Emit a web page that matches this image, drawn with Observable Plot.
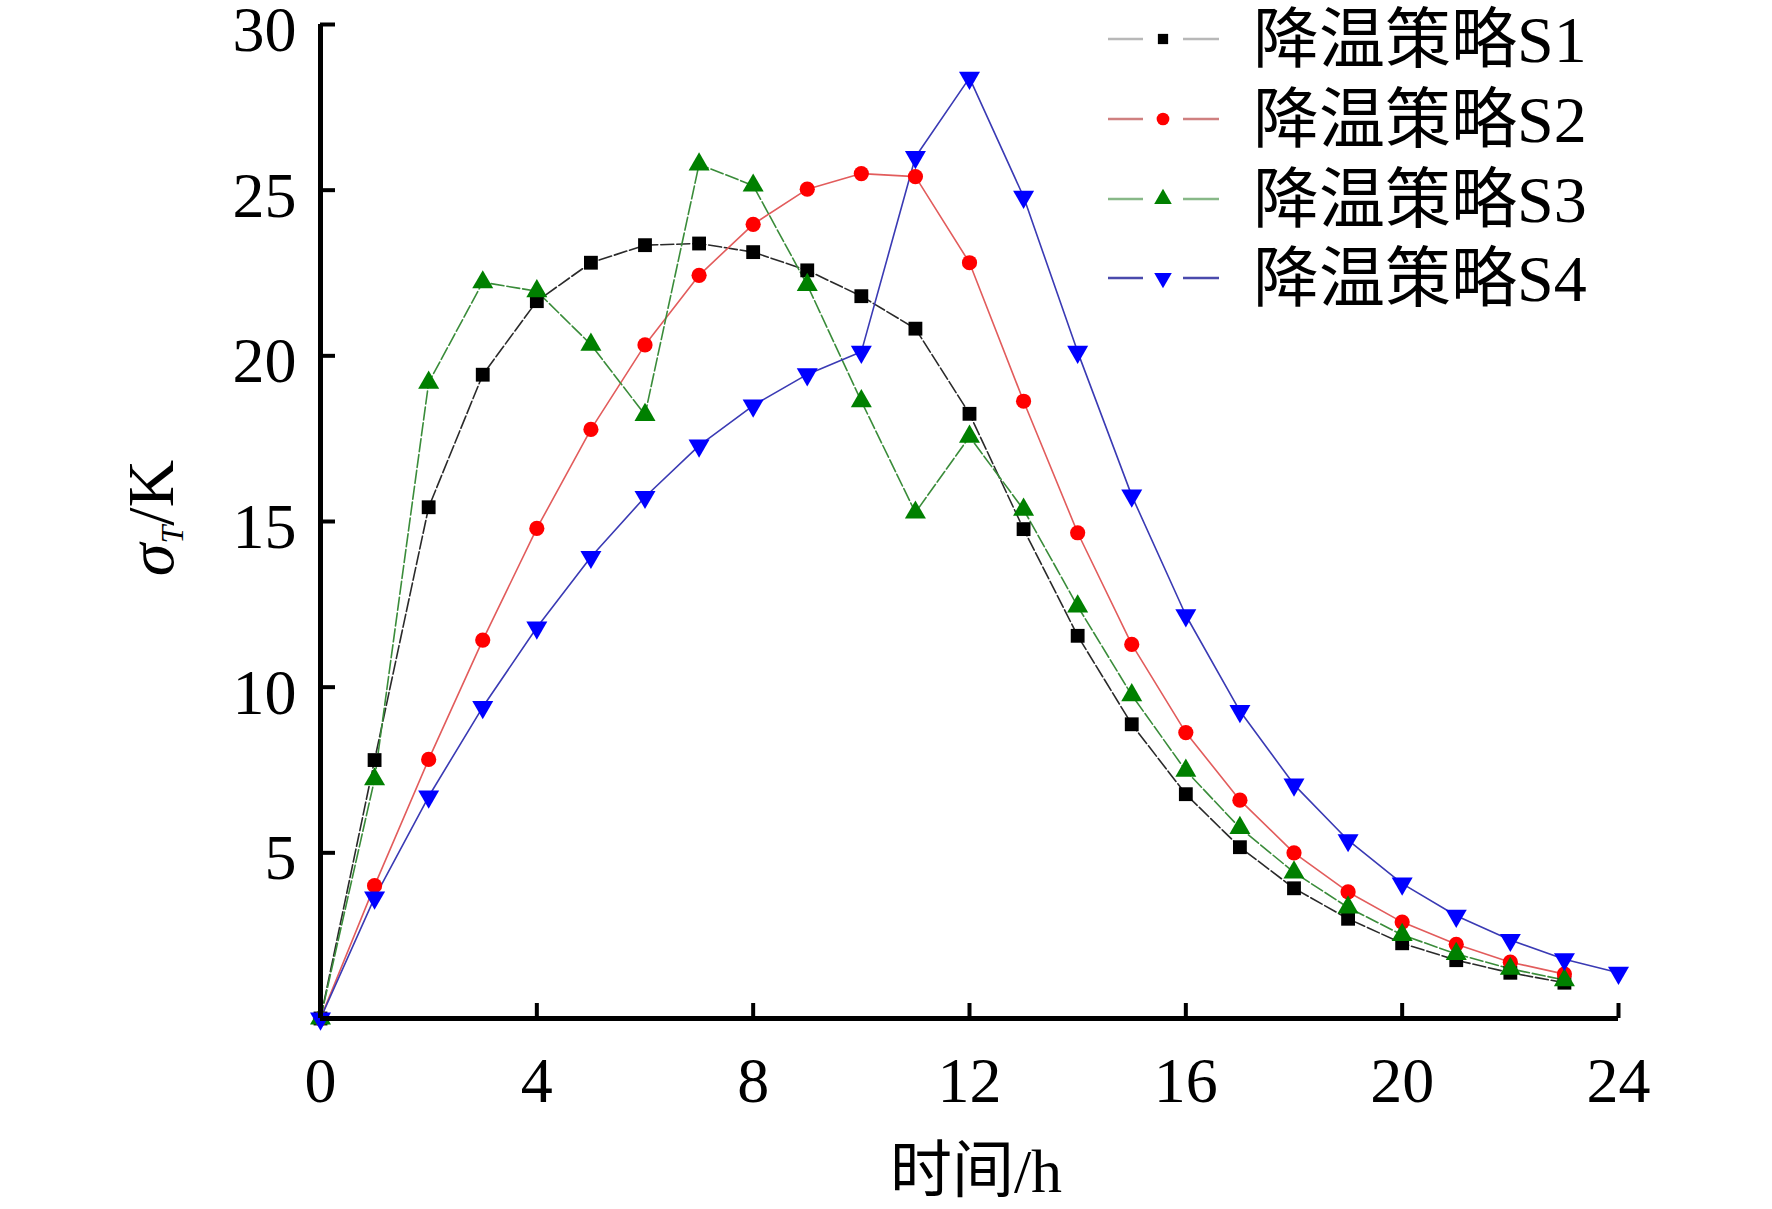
<!DOCTYPE html>
<html>
<head>
<meta charset="utf-8">
<script src="https://cdn.jsdelivr.net/npm/d3@7"></script>
<script src="https://cdn.jsdelivr.net/npm/@observablehq/plot@0.6"></script>
<style>
html, body { margin: 0; padding: 0; background: #fff; color: #000; }
#chart svg { display: block; background: #fff; }
</style>
</head>
<body>
<div id="chart"></div>
<script>
// ---- data ----
const hours = [0,1,2,3,4,5,6,7,8,9,10,11,12,13,14,15,16,17,18,19,20,21,22,23,24];
const xTicks = [0, 4, 8, 12, 16, 20, 24];
const yTicks = [5, 10, 15, 20, 25, 30];
const seriesNames = ["降温策略S1", "降温策略S2", "降温策略S3", "降温策略S4"];
const xLabel = "时间/h";

const s1 = [0, 7.80, 15.43, 19.43, 21.65, 22.81, 23.34, 23.39, 23.13, 22.58, 21.80, 20.82, 18.25, 14.77, 11.55, 8.88, 6.77, 5.17, 3.93, 3.01, 2.27, 1.76, 1.38, 1.08];
const s2 = [0, 4.01, 7.82, 11.42, 14.79, 17.78, 20.33, 22.43, 23.97, 25.03, 25.50, 25.41, 22.81, 18.63, 14.66, 11.29, 8.63, 6.59, 5.00, 3.82, 2.91, 2.24, 1.70, 1.34];
const s3 = [0, 7.22, 19.19, 22.22, 21.95, 20.34, 18.22, 25.78, 25.14, 22.14, 18.63, 15.27, 17.56, 15.36, 12.44, 9.76, 7.48, 5.75, 4.41, 3.35, 2.52, 1.95, 1.50, 1.16];
const s4 = [0, 3.65, 6.70, 9.40, 11.80, 13.93, 15.74, 17.29, 18.50, 19.44, 20.12, 26.00, 28.39, 24.80, 20.12, 15.78, 12.17, 9.28, 7.06, 5.38, 4.07, 3.10, 2.37, 1.79, 1.38];
const seriesValues = [s1, s2, s3, s4];

// ---- styles ----
const lineColors = ["#2a2a2a", "#e25c5c", "#3a8c3a", "#3a3ab4"];
const dotColors = ["#000000", "#ff0000", "#008000", "#0000ff"];
const legendLineColors = ["#b8b8b8", "#cf8080", "#88b888", "#4a4aac"];
const dashes = ["13,3", null, "13,3", null];

const triDown = {
  draw(context, size) {
    const sqrt3 = Math.sqrt(3);
    const y = -Math.sqrt(size / (sqrt3 * 3));
    context.moveTo(0, -y * 2);
    context.lineTo(-sqrt3 * y, y);
    context.lineTo(sqrt3 * y, y);
    context.closePath();
  }
};
const symbols = ["square", "circle", "triangle", triDown];
const radii = [7.8, 7.6, 7.8, 7.8];

const W = 1772, H = 1209;
const mL = 320, mR = 154, mT = 24, mB = 191;
const innerW = W - mL - mR, innerH = H - mT - mB;
const tickLen = 15;
const serif = "'Liberation Serif', 'Times New Roman', serif";
const cjk = "'Liberation Serif', 'Noto Sans CJK SC', serif";

const marks = [];
seriesValues.forEach((vals, i) => {
  const data = vals.map((v, j) => ({x: hours[j], y: v}));
  marks.push(Plot.line(data, {
    x: "x", y: "y", stroke: lineColors[i], strokeWidth: 1.6,
    strokeDasharray: dashes[i] ?? undefined
  }));
});
seriesValues.forEach((vals, i) => {
  const data = vals.map((v, j) => ({x: hours[j], y: v}));
  marks.push(Plot.dot(data, {
    x: "x", y: "y", symbol: symbols[i], r: radii[i],
    fill: dotColors[i], stroke: "none"
  }));
});

// axes: inward ticks, thick axis lines
marks.push(Plot.tickY(yTicks, {y: d => d, stroke: "#000", strokeWidth: 4, insetRight: innerW - tickLen}));
marks.push(Plot.tickX(xTicks, {x: d => d, stroke: "#000", strokeWidth: 4, insetTop: innerH - tickLen}));
marks.push(Plot.ruleX([0], {stroke: "#000", strokeWidth: 5}));
marks.push(Plot.ruleY([0], {stroke: "#000", strokeWidth: 5}));
marks.push(Plot.axisY({ticks: yTicks, tickSize: 0, tickPadding: 24, dy: 6, fontSize: 64, fontFamily: serif, label: null}));
marks.push(Plot.axisX({ticks: xTicks, tickSize: 0, tickPadding: 38, fontSize: 64, fontFamily: serif, label: null}));

const chart = Plot.plot({
  width: W, height: H,
  marginLeft: mL, marginRight: mR, marginTop: mT, marginBottom: mB,
  x: {domain: [0, 24]},
  y: {domain: [0, 30]},
  style: {background: "#fff", color: "#000", overflow: "visible"},
  marks
});
document.getElementById("chart").appendChild(chart);

const svg = d3.select(chart);

// x axis title
svg.append("text")
  .attr("x", 976).attr("y", 1192)
  .attr("text-anchor", "middle")
  .attr("font-family", cjk).attr("font-size", 62)
  .attr("fill", "#000")
  .text(xLabel);

// y axis title σT/K
const yt = svg.append("text")
  .attr("transform", "translate(173,518) rotate(-90)")
  .attr("text-anchor", "middle")
  .attr("font-family", serif).attr("font-size", 66)
  .attr("fill", "#000");
yt.append("tspan").attr("font-style", "italic").text("σ");
yt.append("tspan").attr("font-style", "italic").attr("font-size", 32).attr("dy", 10).text("T");
yt.append("tspan").attr("dy", -10).text("/K");

// legend
const rowY = [39, 119, 199, 278];
seriesNames.forEach((name, i) => {
  const g = svg.append("g");
  const y = rowY[i];
  g.append("line").attr("x1", 1108).attr("x2", 1143).attr("y1", y).attr("y2", y)
    .attr("stroke", legendLineColors[i]).attr("stroke-width", 2.4);
  g.append("line").attr("x1", 1183).attr("x2", 1219).attr("y1", y).attr("y2", y)
    .attr("stroke", legendLineColors[i]).attr("stroke-width", 2.4);
  const sym = typeof symbols[i] === "string"
    ? ({square: d3.symbolSquare, circle: d3.symbolCircle, triangle: d3.symbolTriangle})[symbols[i]]
    : symbols[i];
  const size = Math.PI * radii[i] * radii[i] * (i === 0 ? 0.55 : 0.7);
  g.append("path").attr("transform", `translate(1163,${y})`)
    .attr("d", d3.symbol(sym, size)())
    .attr("fill", dotColors[i]);
  g.append("text").attr("x", 1253).attr("y", y + 23)
    .attr("text-anchor", "start")
    .attr("font-family", cjk).attr("font-size", 66).attr("fill", "#000")
    .text(name);
});
</script>
</body>
</html>
